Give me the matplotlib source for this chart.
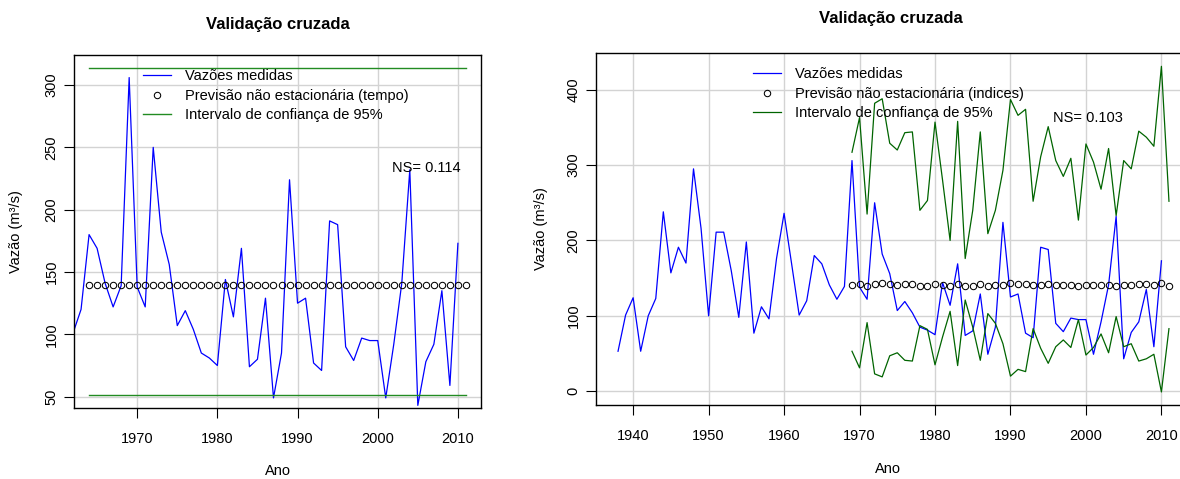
import numpy as np
import matplotlib
matplotlib.use('Agg')
import matplotlib.pyplot as plt
from matplotlib.lines import Line2D

plt.rcParams['font.family'] = ['Liberation Sans', 'DejaVu Sans']

# vazões medidas (m3/s), 1938-2010
anos_obs = np.arange(1938, 2011)
vazoes = [53, 101, 124, 53, 100, 123, 238, 157, 191, 170,
          295, 216, 100, 211, 211, 160, 98, 198, 77, 112,
          96, 176, 236, 169, 101, 120, 180, 169, 141, 122,
          139, 306, 138, 122, 250, 182, 156, 107, 119, 104,
          85, 81, 75, 144, 114, 169, 74, 80, 129, 49,
          85, 224, 125, 129, 77, 71, 191, 188, 90, 79,
          97, 95, 95, 49, 92, 141, 232, 43, 78, 92,
          135, 59, 173]

# painel 1: previsão com tempo (constante)
anos_tempo = np.arange(1964, 2012)
prev_tempo = [139.5] * len(anos_tempo)
ic_sup_tempo = [313.6] * len(anos_tempo)
ic_inf_tempo = [51.4] * len(anos_tempo)
ns_tempo = 'NS= 0.114'

# painel 2: previsão com índices, 1969-2011
anos_ind = np.arange(1969, 2012)
prev_ind = [141.0, 141.9, 140.2, 142.8, 143.2, 141.9, 141.0, 141.9, 141.9, 140.2,
            140.2, 142.8, 141.5, 139.0, 142.8, 139.4, 140.2, 142.4, 139.0, 140.6,
            141.5, 143.7, 142.4, 141.9, 140.6, 141.5, 142.4, 141.0, 141.5, 141.0,
            140.2, 141.5, 141.0, 140.6, 141.5, 139.0, 141.5, 141.5, 142.4, 141.9,
            141.5, 143.7, 139.8]
ic_sup_ind = [317, 363, 235, 382, 388, 329, 320, 343, 344, 240,
              253, 357, 280, 200, 358, 176, 240, 344, 209, 240,
              293, 387, 366, 374, 252, 311, 351, 306, 285, 309,
              227, 328, 304, 268, 322, 233, 306, 295, 345, 337,
              325, 431, 252]
ic_inf_ind = [53, 31, 91, 23, 19, 47, 51, 41, 40, 87,
              82, 35, 72, 106, 34, 121, 85, 41, 103, 90,
              63, 20, 29, 26, 83, 57, 37, 59, 68, 58,
              95, 48, 58, 76, 51, 99, 59, 63, 40, 43,
              49, -1, 83]
ns_ind = 'NS= 0.103'

W, H = 1180, 479
fig = plt.figure(figsize=(W / 100, H / 100), dpi=100)


def px_axes(x0, y0, x1, y1):
    return fig.add_axes([x0 / W, 1 - y1 / H, (x1 - x0) / W, (y1 - y0) / H])


def style(ax, xticks, yticks):
    ax.set_xticks(xticks)
    ax.set_yticks(yticks)
    ax.grid(True, color='#d3d3d3', lw=1)
    ax.set_axisbelow(True)
    ax.tick_params(axis='both', length=7, width=0.8, labelsize=10.5, pad=10)
    ax.tick_params(axis='y', pad=4)
    plt.setp(ax.get_yticklabels(), rotation=90, va='center')
    for s in ax.spines.values():
        s.set_linewidth(1.0)
    ax.set_xlabel('Ano', fontsize=10.5)
    ax.set_ylabel('Vazão (m³/s)', fontsize=10.5)


circ = dict(mfc='none', mec='black', ms=4.6, mew=0.75)

# ---- painel esquerdo ----
ax1 = px_axes(74, 55, 481, 408)
ax1.plot(anos_obs, vazoes, color='#0000ff', lw=0.9)
ax1.plot(anos_tempo, prev_tempo, 'o', **circ)
ax1.plot(anos_tempo, ic_sup_tempo, color='#228b22', lw=1)
ax1.plot(anos_tempo, ic_inf_tempo, color='#228b22', lw=1)
ax1.set_xlim(1962.12, 2012.88)
ax1.set_ylim(40.9, 324.1)
style(ax1, [1970, 1980, 1990, 2000, 2010], [50, 100, 150, 200, 250, 300])
ax1.text(2006.1, 233.5, ns_tempo, fontsize=10.5, ha='center', va='center')
ax1.yaxis.set_label_coords(-0.125, 0.5)
ax1.xaxis.set_label_coords(0.5, -0.16)
h1 = [Line2D([], [], color='#0000ff', lw=0.9),
      Line2D([], [], ls='none', marker='o', **circ),
      Line2D([], [], color='#228b22', lw=1)]
ax1.legend(h1, ['Vazões medidas', 'Previsão não estacionária (tempo)',
                'Intervalo de confiança de 95%'],
           loc='upper left', bbox_to_anchor=(0.17, 0.96), frameon=False,
           fontsize=10.5, borderpad=0, borderaxespad=0, handlelength=1.9,
           handletextpad=1.0, labelspacing=0.38)
fig.text(278 / W, 1 - 24 / H, 'Validação cruzada', ha='center', va='center',
         fontsize=12, fontweight='bold')

# ---- painel direito ----
ax2 = px_axes(596, 53, 1191, 405)
ax2.plot(anos_obs, vazoes, color='#0000ff', lw=0.9)
ax2.plot(anos_ind, prev_ind, 'o', **circ)
ax2.plot(anos_ind, ic_sup_ind, color='#006400', lw=0.9)
ax2.plot(anos_ind, ic_inf_ind, color='#006400', lw=0.9)
ax2.set_xlim(1935.08, 2013.92)
ax2.set_ylim(-18.3, 448.7)
style(ax2, np.arange(1940, 2011, 10), [0, 100, 200, 300, 400])
ax2.text(2000.2, 363, ns_ind, fontsize=10.5, ha='center', va='center')
ax2.yaxis.set_label_coords(-0.081, 0.5)
ax2.xaxis.set_label_coords(0.49, -0.162)
h2 = [Line2D([], [], color='#0000ff', lw=0.9),
      Line2D([], [], ls='none', marker='o', **circ),
      Line2D([], [], color='#006400', lw=0.9)]
ax2.legend(h2, ['Vazões medidas', 'Previsão não estacionária (indices)',
                'Intervalo de confiança de 95%'],
           loc='upper left', bbox_to_anchor=(0.264, 0.96), frameon=False,
           fontsize=10.5, borderpad=0, borderaxespad=0, handlelength=1.9,
           handletextpad=1.0, labelspacing=0.38)
fig.text(891 / W, 1 - 18 / H, 'Validação cruzada', ha='center', va='center',
         fontsize=12, fontweight='bold')

fig.savefig('out.png', dpi=100)
